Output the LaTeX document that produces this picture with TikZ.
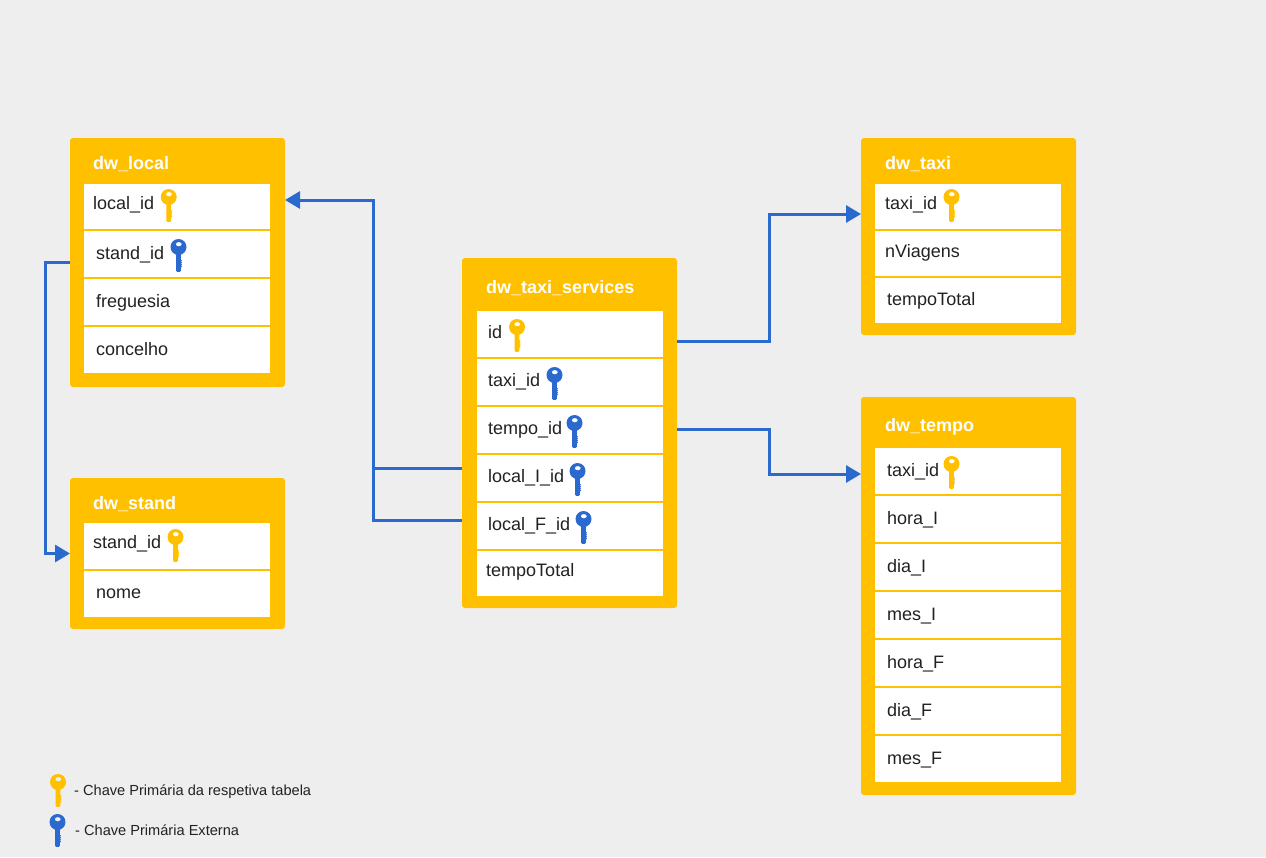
\documentclass[tikz,border=0pt]{standalone}
\usepackage{fontspec}
\setmainfont{Liberation Sans}
\usetikzlibrary{arrows.meta}
\definecolor{bgc}{HTML}{EEEEEE}
\definecolor{amber}{HTML}{FFC000}
\definecolor{linkblue}{HTML}{2A6ACF}
\definecolor{ink}{HTML}{222222}
\tikzset{
  tablebox/.style={fill=amber,draw=none,rounded corners=3pt,anchor=north west,inner sep=0pt,outer sep=0pt},
  rowbox/.style={fill=white,draw=none,anchor=north west,inner sep=0pt,outer sep=0pt,minimum width=186pt},
  titlelab/.style={anchor=base west,inner sep=0pt,text=white,font=\fontsize{18}{20}\selectfont\bfseries},
  fieldlab/.style={anchor=base west,inner sep=0pt,text=ink,font=\fontsize{18}{20}\selectfont},
  notelab/.style={anchor=base west,inner sep=0pt,text=ink,font=\fontsize{14.6}{17}\selectfont},
  link/.style={draw=linkblue,line width=3pt},
  linkarrow/.style={link,-{Triangle[length=15pt,width=17pt]}},
  pics/keyicon/.style={code={
    \fill[#1,even odd rule] (0,-1) circle[radius=8] (0.3,-3.8) ellipse[x radius=3,y radius=2.2];
    \fill[#1] (-2.4,5) -- (2.4,5) -- (2.4,12) -- (3.6,12.6) -- (2.4,13.6) -- (3.6,14.6) -- (2.4,15.6) -- (3.6,16.6) -- (2.4,17.6) -- (3.6,18.6) -- (2.4,19.6) -- (2.4,22.6) -- (1.4,23.8) -- (-1.4,23.8) -- (-2.4,22.6) -- cycle;
  }}
}
\newcommand{\tbl}[4]{\node[tablebox,minimum width=215pt,minimum height=#4pt] (#1) at (#2,#3) {};}
\begin{document}
\begin{tikzpicture}[x=1pt,y=-1pt]
\useasboundingbox (0,0) rectangle (1266,857);
\fill[bgc] (0,0) rectangle (1266,857);

% tables
\tbl{local}{70}{138}{249}
\tbl{stand}{70}{478}{151}
\tbl{services}{462}{258}{350}
\tbl{taxi}{861}{138}{197}
\tbl{tempo}{861}{397}{398}

% dw_local
\node[rowbox,minimum height=45pt] (localA) at (84,184) {};
\node[rowbox,minimum height=46pt] (localB) at (84,231) {};
\node[rowbox,minimum height=46pt] (localC) at (84,279) {};
\node[rowbox,minimum height=46pt] (localD) at (84,327) {};
\node[titlelab] (tLocal) at (93,169) {dw\_local};
\node[fieldlab] (fLocalA) at (93,209) {local\_id};
\node[fieldlab] (fLocalB) at (96,259) {stand\_id};
\node[fieldlab] (fLocalC) at (96,307) {freguesia};
\node[fieldlab] (fLocalD) at (96,355) {concelho};

% dw_stand
\node[rowbox,minimum height=46pt] (standA) at (84,523) {};
\node[rowbox,minimum height=46pt] (standB) at (84,571) {};
\node[titlelab] (tStand) at (93,509) {dw\_stand};
\node[fieldlab] (fStandA) at (93,548) {stand\_id};
\node[fieldlab] (fStandB) at (96,598) {nome};

% dw_taxi_services
\node[rowbox,minimum height=46pt] (svcA) at (477,311) {};
\node[rowbox,minimum height=46pt] (svcB) at (477,359) {};
\node[rowbox,minimum height=46pt] (svcC) at (477,407) {};
\node[rowbox,minimum height=46pt] (svcD) at (477,455) {};
\node[rowbox,minimum height=46pt] (svcE) at (477,503) {};
\node[rowbox,minimum height=45pt] (svcF) at (477,551) {};
\node[titlelab] (tSvc) at (486,293) {dw\_taxi\_services};
\node[fieldlab] (fSvcA) at (488,338) {id};
\node[fieldlab] (fSvcB) at (488,386) {taxi\_id};
\node[fieldlab] (fSvcC) at (488,434) {tempo\_id};
\node[fieldlab] (fSvcD) at (488,482) {local\_I\_id};
\node[fieldlab] (fSvcE) at (488,530) {local\_F\_id};
\node[fieldlab] (fSvcF) at (486,576) {tempoTotal};

% dw_taxi
\node[rowbox,minimum height=45pt] (taxiA) at (875,184) {};
\node[rowbox,minimum height=45pt] (taxiB) at (875,231) {};
\node[rowbox,minimum height=45pt] (taxiC) at (875,278) {};
\node[titlelab] (tTaxi) at (885,169) {dw\_taxi};
\node[fieldlab] (fTaxiA) at (885,209) {taxi\_id};
\node[fieldlab] (fTaxiB) at (885,257) {nViagens};
\node[fieldlab] (fTaxiC) at (887,305) {tempoTotal};

% dw_tempo
\node[rowbox,minimum height=46pt] (tempoA) at (875,448) {};
\node[rowbox,minimum height=46pt] (tempoB) at (875,496) {};
\node[rowbox,minimum height=46pt] (tempoC) at (875,544) {};
\node[rowbox,minimum height=46pt] (tempoD) at (875,592) {};
\node[rowbox,minimum height=46pt] (tempoE) at (875,640) {};
\node[rowbox,minimum height=46pt] (tempoF) at (875,688) {};
\node[rowbox,minimum height=46pt] (tempoG) at (875,736) {};
\node[titlelab] (tTempo) at (885,431) {dw\_tempo};
\node[fieldlab] (fTempoA) at (887,476) {taxi\_id};
\node[fieldlab] (fTempoB) at (887,524) {hora\_I};
\node[fieldlab] (fTempoC) at (887,572) {dia\_I};
\node[fieldlab] (fTempoD) at (887,620) {mes\_I};
\node[fieldlab] (fTempoE) at (887,668) {hora\_F};
\node[fieldlab] (fTempoF) at (887,716) {dia\_F};
\node[fieldlab] (fTempoG) at (887,764) {mes\_F};

% keys
\pic at (168.7,198) {keyicon=amber};
\pic at (178.5,248) {keyicon=linkblue};
\pic at (175.5,538) {keyicon=amber};
\pic at (517,328) {keyicon=amber};
\pic at (554.5,376) {keyicon=linkblue};
\pic at (574.5,424) {keyicon=linkblue};
\pic at (577.5,472) {keyicon=linkblue};
\pic at (583.5,520) {keyicon=linkblue};
\pic at (951.5,198) {keyicon=amber};
\pic at (951.5,465) {keyicon=amber};
\pic at (58,783) {keyicon=amber};
\pic at (57.5,823) {keyicon=linkblue};

% legend
\node[notelab] (noteA) at (74,795) {- Chave Primária da respetiva tabela};
\node[notelab] (noteB) at (75,835) {- Chave Primária Externa};

% connectors
\draw[linkarrow] ([yshift=-35pt]services.west) -- (373,468) -- (373,200) -- ([yshift=62.5pt]local.east);
\draw[link] ([yshift=-87pt]services.west) -- (373,520) -- (373,466.5);
\draw[linkarrow] (local.west) -- (45,262.5) -- (45,553.5) -- (stand.west);
\draw[linkarrow] ([yshift=92pt]services.east) -- (769,341) -- (769,214) -- ([yshift=22.5pt]taxi.west);
\draw[linkarrow] ([yshift=4pt]services.east) -- (769,429) -- (769,474) -- ([yshift=122pt]tempo.west);
\end{tikzpicture}
\end{document}
